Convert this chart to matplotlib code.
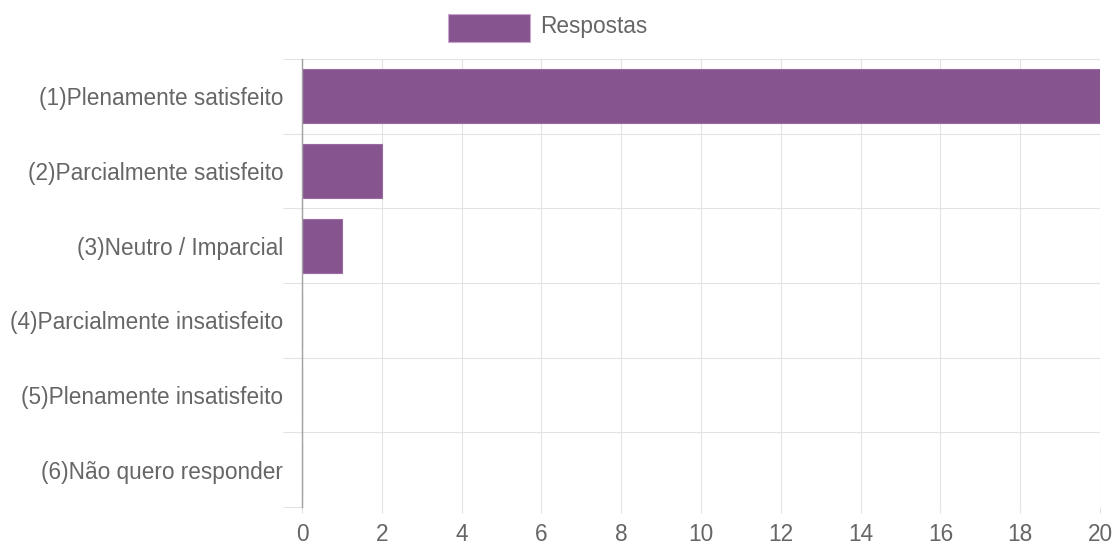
import matplotlib
matplotlib.use("Agg")
import matplotlib.pyplot as plt
from matplotlib.patches import Rectangle
import numpy as np

categories = ["(1)Plenamente satisfeito", "(2)Parcialmente satisfeito", "(3)Neutro / Imparcial",
              "(4)Parcialmente insatisfeito", "(5)Plenamente insatisfeito", "(6)Não quero responder"]
values = [20, 2, 1, 0, 0, 0]
xticks = [0, 2, 4, 6, 8, 10, 12, 14, 16, 18, 20]
legend_label = "Respostas"

bar_color = "#86558f"
grid_color = "#e3e3e3"
text_color = "#666666"
fs = 16.3
plt.rcParams['font.family'] = ['Liberation Sans', 'DejaVu Sans']

W, H = 1115, 545
fig = plt.figure(figsize=(W / 100, H / 100), dpi=100)
ax = fig.add_axes([302 / W, 1 - 507 / H, (1100 - 302) / W, (507 - 59) / H])

n = len(categories)
y = np.arange(n)
ax.barh(y, values, height=0.72, color=bar_color, edgecolor="#9a6aa3", linewidth=0.8, zorder=3)
ax.set_ylim(n - 0.5, -0.5)
ax.set_xlim(0, 20)

ax.set_yticks(y)
ax.set_yticklabels(categories)
ax.set_yticks(np.arange(n + 1) - 0.5, minor=True)
ax.set_xticks(xticks)
ax.set_xticklabels([str(t) for t in xticks])

ax.tick_params(axis="y", which="major", length=0, pad=13.5, labelsize=fs, labelcolor=text_color)
ax.tick_params(axis="y", which="minor", length=13.5, width=0.8, color=grid_color)
ax.tick_params(axis="x", which="major", length=4.5, width=0.8, color=grid_color, pad=7,
               labelsize=fs, labelcolor=text_color)

ax.grid(axis="x", which="major", color=grid_color, linewidth=0.8, zorder=0)
ax.grid(axis="y", which="minor", color=grid_color, linewidth=0.8, zorder=0)

for side in ["top", "right", "bottom"]:
    ax.spines[side].set_visible(False)
ax.spines["left"].set_color("#a0a0a0")
ax.spines["left"].set_linewidth(1.0)
ax.spines["left"].set_zorder(4)

# legend
fig.patches.append(Rectangle((448 / W, 1 - 42 / H), 82 / W, 28 / H, transform=fig.transFigure,
                             facecolor=bar_color, edgecolor="#c9a6cf", linewidth=0.8))
fig.text(540 / W, 1 - 27 / H, legend_label, fontsize=fs, color=text_color, va="center", ha="left")

fig.savefig("out.png", dpi=100)
